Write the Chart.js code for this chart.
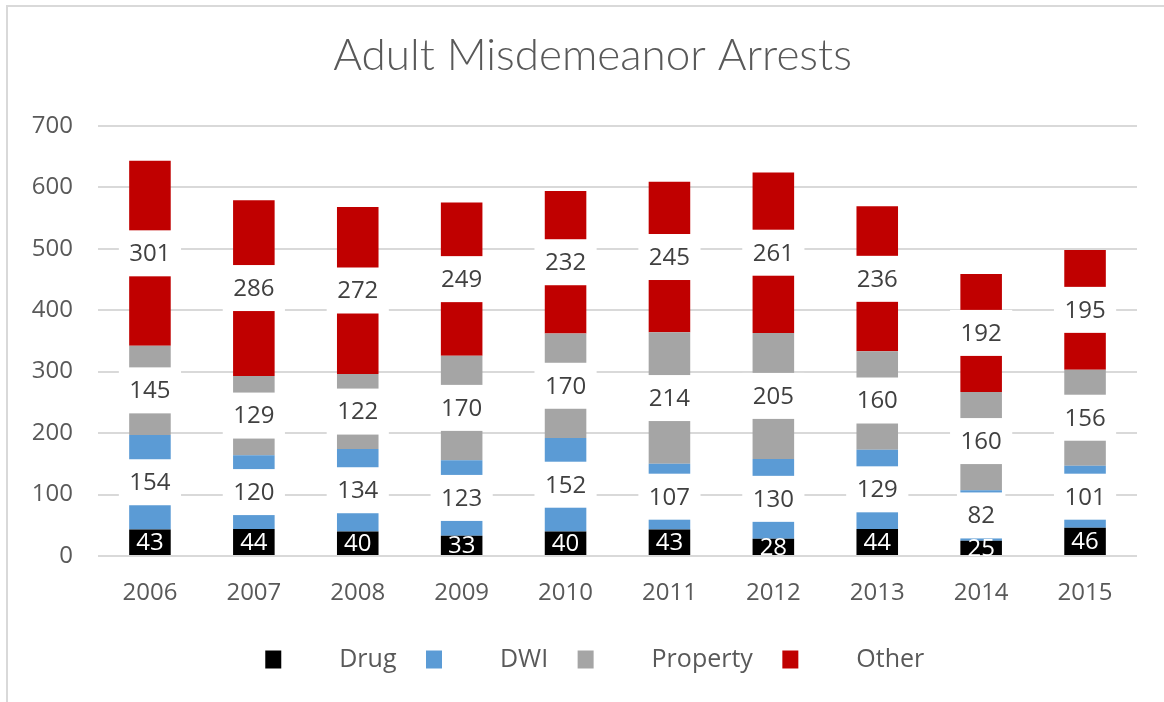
<!DOCTYPE html>
<html>
<head>
<meta charset="utf-8">
<script src="https://cdn.jsdelivr.net/npm/chart.js@4.4.1/dist/chart.umd.min.js"></script>
<style>
  html, body { margin: 0; padding: 0; background: #fff; }
  #wrap { position: relative; width: 1164px; height: 702px; }
  #frame { position: absolute; left: 6px; top: 5px; right: 0; bottom: 0;
           border-left: 2px solid #d9d9d9; border-top: 2px solid #d9d9d9; pointer-events: none; }
</style>
</head>
<body>
<div id="wrap">
  <canvas id="chart" width="1164" height="702"></canvas>
  <div id="frame"></div>
</div>
<script>
const years = ['2006', '2007', '2008', '2009', '2010', '2011', '2012', '2013', '2014', '2015'];
const drug = [43, 44, 40, 33, 40, 43, 28, 44, 25, 46];
const dwi = [154, 120, 134, 123, 152, 107, 130, 129, 82, 101];
const property = [145, 129, 122, 170, 170, 214, 205, 160, 160, 156];
const other = [301, 286, 272, 249, 232, 245, 261, 236, 192, 195];
const seriesNames = ['Drug', 'DWI', 'Property', 'Other'];
const seriesColors = ['#000000', '#5b9bd5', '#a5a5a5', '#c00000'];
const yTicks = [0, 100, 200, 300, 400, 500, 600, 700];

const textColor = '#595959';
const font = "'Open Sans', 'Noto Sans', sans-serif";

// value labels centred in each segment, with a white box like the original
const segmentLabels = {
  id: 'segmentLabels',
  afterDatasetsDraw(chart) {
    const ctx = chart.ctx;
    const area = chart.chartArea;
    ctx.save();
    ctx.font = '24px ' + font;
    ctx.textAlign = 'center';
    ctx.textBaseline = 'middle';
    chart.data.datasets.forEach((ds, i) => {
      const meta = chart.getDatasetMeta(i);
      meta.data.forEach((bar, j) => {
        const txt = String(ds.data[j]);
        const cy = (bar.y + bar.base) / 2;
        if (i === 0) {
          ctx.save();
          ctx.beginPath();
          ctx.rect(area.left, area.top, area.right - area.left, area.bottom - area.top);
          ctx.clip();
          ctx.fillStyle = '#ffffff';
          ctx.fillText(txt, bar.x, cy + 1);
          ctx.restore();
        } else {
          const w = ctx.measureText(txt).width + 21;
          ctx.fillStyle = '#ffffff';
          ctx.fillRect(bar.x - w / 2, cy - 23, w, 46);
          ctx.fillStyle = '#404040';
          ctx.fillText(txt, bar.x, cy + 1);
        }
      });
    });
    ctx.restore();
  }
};

// title and legend sit a little right of the canvas centre
const shiftBlocks = {
  id: 'shiftBlocks',
  afterLayout(chart) {
    chart.legend.left += 36;
    chart.legend.right += 36;
    chart.titleBlock.left += 24;
    chart.titleBlock.right += 24;
  }
};

new Chart(document.getElementById('chart'), {
  type: 'bar',
  data: {
    labels: years,
    datasets: [drug, dwi, property, other].map((vals, i) => ({
      label: seriesNames[i],
      data: vals,
      backgroundColor: seriesColors[i],
      borderWidth: 0,
      barPercentage: 0.8,
      categoryPercentage: 0.5
    }))
  },
  plugins: [segmentLabels, shiftBlocks],
  options: {
    responsive: false,
    animation: false,
    layout: { padding: { left: 0, right: 27, top: 0, bottom: 20 } },
    plugins: {
      title: {
        display: true,
        text: 'Adult Misdemeanor Arrests',
        color: textColor,
        font: { family: "'Lato', " + font, size: 44, weight: '300' },
        padding: { top: 29, bottom: 44 }
      },
      legend: {
        position: 'bottom',
        labels: {
          color: textColor,
          font: { family: font, size: 25 },
          boxWidth: 16,
          boxHeight: 18,
          padding: 10,
          generateLabels(chart) {
            return chart.data.datasets.map((ds, i) => ({
              text: '       ' + ds.label + '   ',
              fillStyle: ds.backgroundColor,
              strokeStyle: ds.backgroundColor,
              lineWidth: 0,
              fontColor: textColor,
              datasetIndex: i
            }));
          }
        }
      },
      tooltip: { enabled: false }
    },
    scales: {
      x: {
        stacked: true,
        grid: { display: false, drawTicks: false },
        border: { display: false },
        ticks: { color: textColor, font: { family: font, size: 24 }, padding: 23 },
        afterFit(scale) { scale.height = 81; }
      },
      y: {
        stacked: true,
        min: 0,
        max: 700,
        afterBuildTicks(scale) { scale.ticks = yTicks.map(v => ({ value: v })); },
        grid: { color: '#d9d9d9', lineWidth: 2, drawTicks: false },
        border: { display: false },
        ticks: { color: textColor, font: { family: font, size: 24 }, padding: 25 },
        afterFit(scale) { scale.width = 98; }
      }
    }
  }
});
</script>
</body>
</html>
